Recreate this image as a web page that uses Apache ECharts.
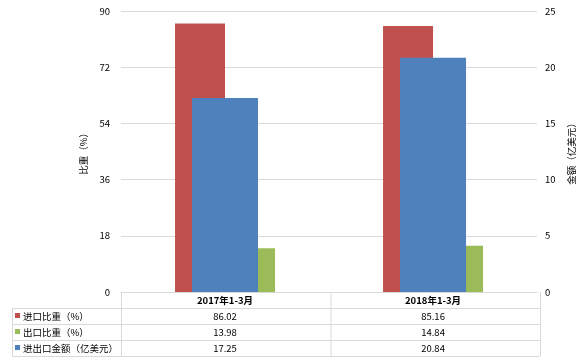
<!DOCTYPE html>
<html><head><meta charset="utf-8">
<script src="https://cdn.jsdelivr.net/npm/echarts@6/dist/echarts.min.js"></script>
<style>html,body{margin:0;padding:0;background:#fff}#c{width:584px;height:360px}</style>
</head><body><div id="c"></div>
<script>
const categories = ['2017年1-3月', '2018年1-3月'];
const importShare = [86.02, 85.16];
const exportShare = [13.98, 14.84];
const totalAmount = [17.25, 20.84];
const seriesNames = ['进口比重（%）', '出口比重（%）', '进出口金额（亿美元）'];
const leftTicks = {min: 0, max: 90, interval: 18};
const rightTicks = {min: 0, max: 25, interval: 5};
const colors = ['#C0504D', '#9BBB59', '#4F81BD'];

const FONT = '"Noto Sans CJK SC", "Liberation Sans", sans-serif';
const chart = echarts.init(document.getElementById('c'), null, {renderer: 'canvas'});
const gridL = 121, gridR = 540, gridT = 11, gridB = 292;
const rowH = 16;
const lineColor = '#d9d9d9';
const tableRows = [importShare, exportShare, totalAmount];

const rowAxes = tableRows.map((vals, i) => ({
  type: 'category', gridIndex: 0, position: 'bottom', offset: rowH * (i + 1),
  data: vals.map(v => v.toFixed(2)),
  axisLine: {show: false}, axisTick: {show: false},
  axisLabel: {color: '#000', fontSize: 9.5, fontFamily: FONT, margin: 4}
}));

const graphics = [];
function hline(x1, x2, y) { graphics.push({type: 'line', shape: {x1, y1: y + 0.5, x2, y2: y + 0.5}, style: {stroke: lineColor, lineWidth: 1}, silent: true}); }
function vline(x, y1, y2) { graphics.push({type: 'line', shape: {x1: x + 0.5, y1, x2: x + 0.5, y2}, style: {stroke: lineColor, lineWidth: 1}, silent: true}); }
for (let i = 1; i <= 4; i++) hline(12, gridR, gridB + rowH * i);
vline(12, gridB + rowH, gridB + rowH * 4);
vline(gridL, gridB, gridB + rowH * 4);
vline((gridL + gridR) / 2, gridB, gridB + rowH * 4);
vline(gridR, gridB, gridB + rowH * 4);
seriesNames.forEach((n, i) => {
  const cy = gridB + rowH * (i + 1) + rowH / 2;
  graphics.push({type: 'rect', shape: {x: 15, y: cy - 3, width: 5, height: 5}, style: {fill: colors[i]}, silent: true});
  graphics.push({type: 'text', x: 23, y: cy, style: {text: n, fill: '#000', font: '9.5px ' + FONT, textVerticalAlign: 'middle', textAlign: 'left'}, silent: true});
});

chart.setOption({
  animation: false,
  backgroundColor: '#fff',
  grid: {left: gridL, right: 584 - gridR, top: gridT, bottom: 360 - gridB},
  xAxis: [
    {type: 'category', data: categories,
     axisLine: {show: true, lineStyle: {color: lineColor}}, axisTick: {show: false},
     axisLabel: {color: '#000', fontSize: 9.5, fontFamily: FONT, fontWeight: 'bold', margin: 4}},
    {type: 'category', data: categories, show: false},
    ...rowAxes
  ],
  yAxis: [
    {type: 'value', min: leftTicks.min, max: leftTicks.max, interval: leftTicks.interval,
     name: '比重（%）', nameLocation: 'middle', nameRotate: 90, nameGap: 33,
     nameTextStyle: {color: '#000', fontSize: 9.5, fontFamily: FONT},
     axisLine: {show: false}, axisTick: {show: false},
     axisLabel: {color: '#000', fontSize: 9.5, fontFamily: FONT, margin: 11},
     splitLine: {show: true, lineStyle: {color: lineColor}}},
    {type: 'value', min: rightTicks.min, max: rightTicks.max, interval: rightTicks.interval,
     name: '金额（亿美元）', nameLocation: 'middle', nameRotate: 90, nameGap: 26,
     nameTextStyle: {color: '#000', fontSize: 9.5, fontFamily: FONT},
     axisLine: {show: false}, axisTick: {show: false},
     axisLabel: {color: '#000', fontSize: 9.5, fontFamily: FONT, margin: 8},
     splitLine: {show: false}}
  ],
  series: [
    {name: seriesNames[0], type: 'bar', xAxisIndex: 0, yAxisIndex: 0, data: importShare,
     barWidth: 50, barGap: '0%', itemStyle: {color: colors[0]}},
    {name: seriesNames[1], type: 'bar', xAxisIndex: 0, yAxisIndex: 0, data: exportShare,
     barWidth: 50, barGap: '0%', itemStyle: {color: colors[1]}},
    {name: seriesNames[2], type: 'bar', xAxisIndex: 1, yAxisIndex: 1, data: totalAmount,
     barWidth: 66, itemStyle: {color: colors[2]}, z: 3}
  ],
  graphic: graphics
});
</script></body></html>
